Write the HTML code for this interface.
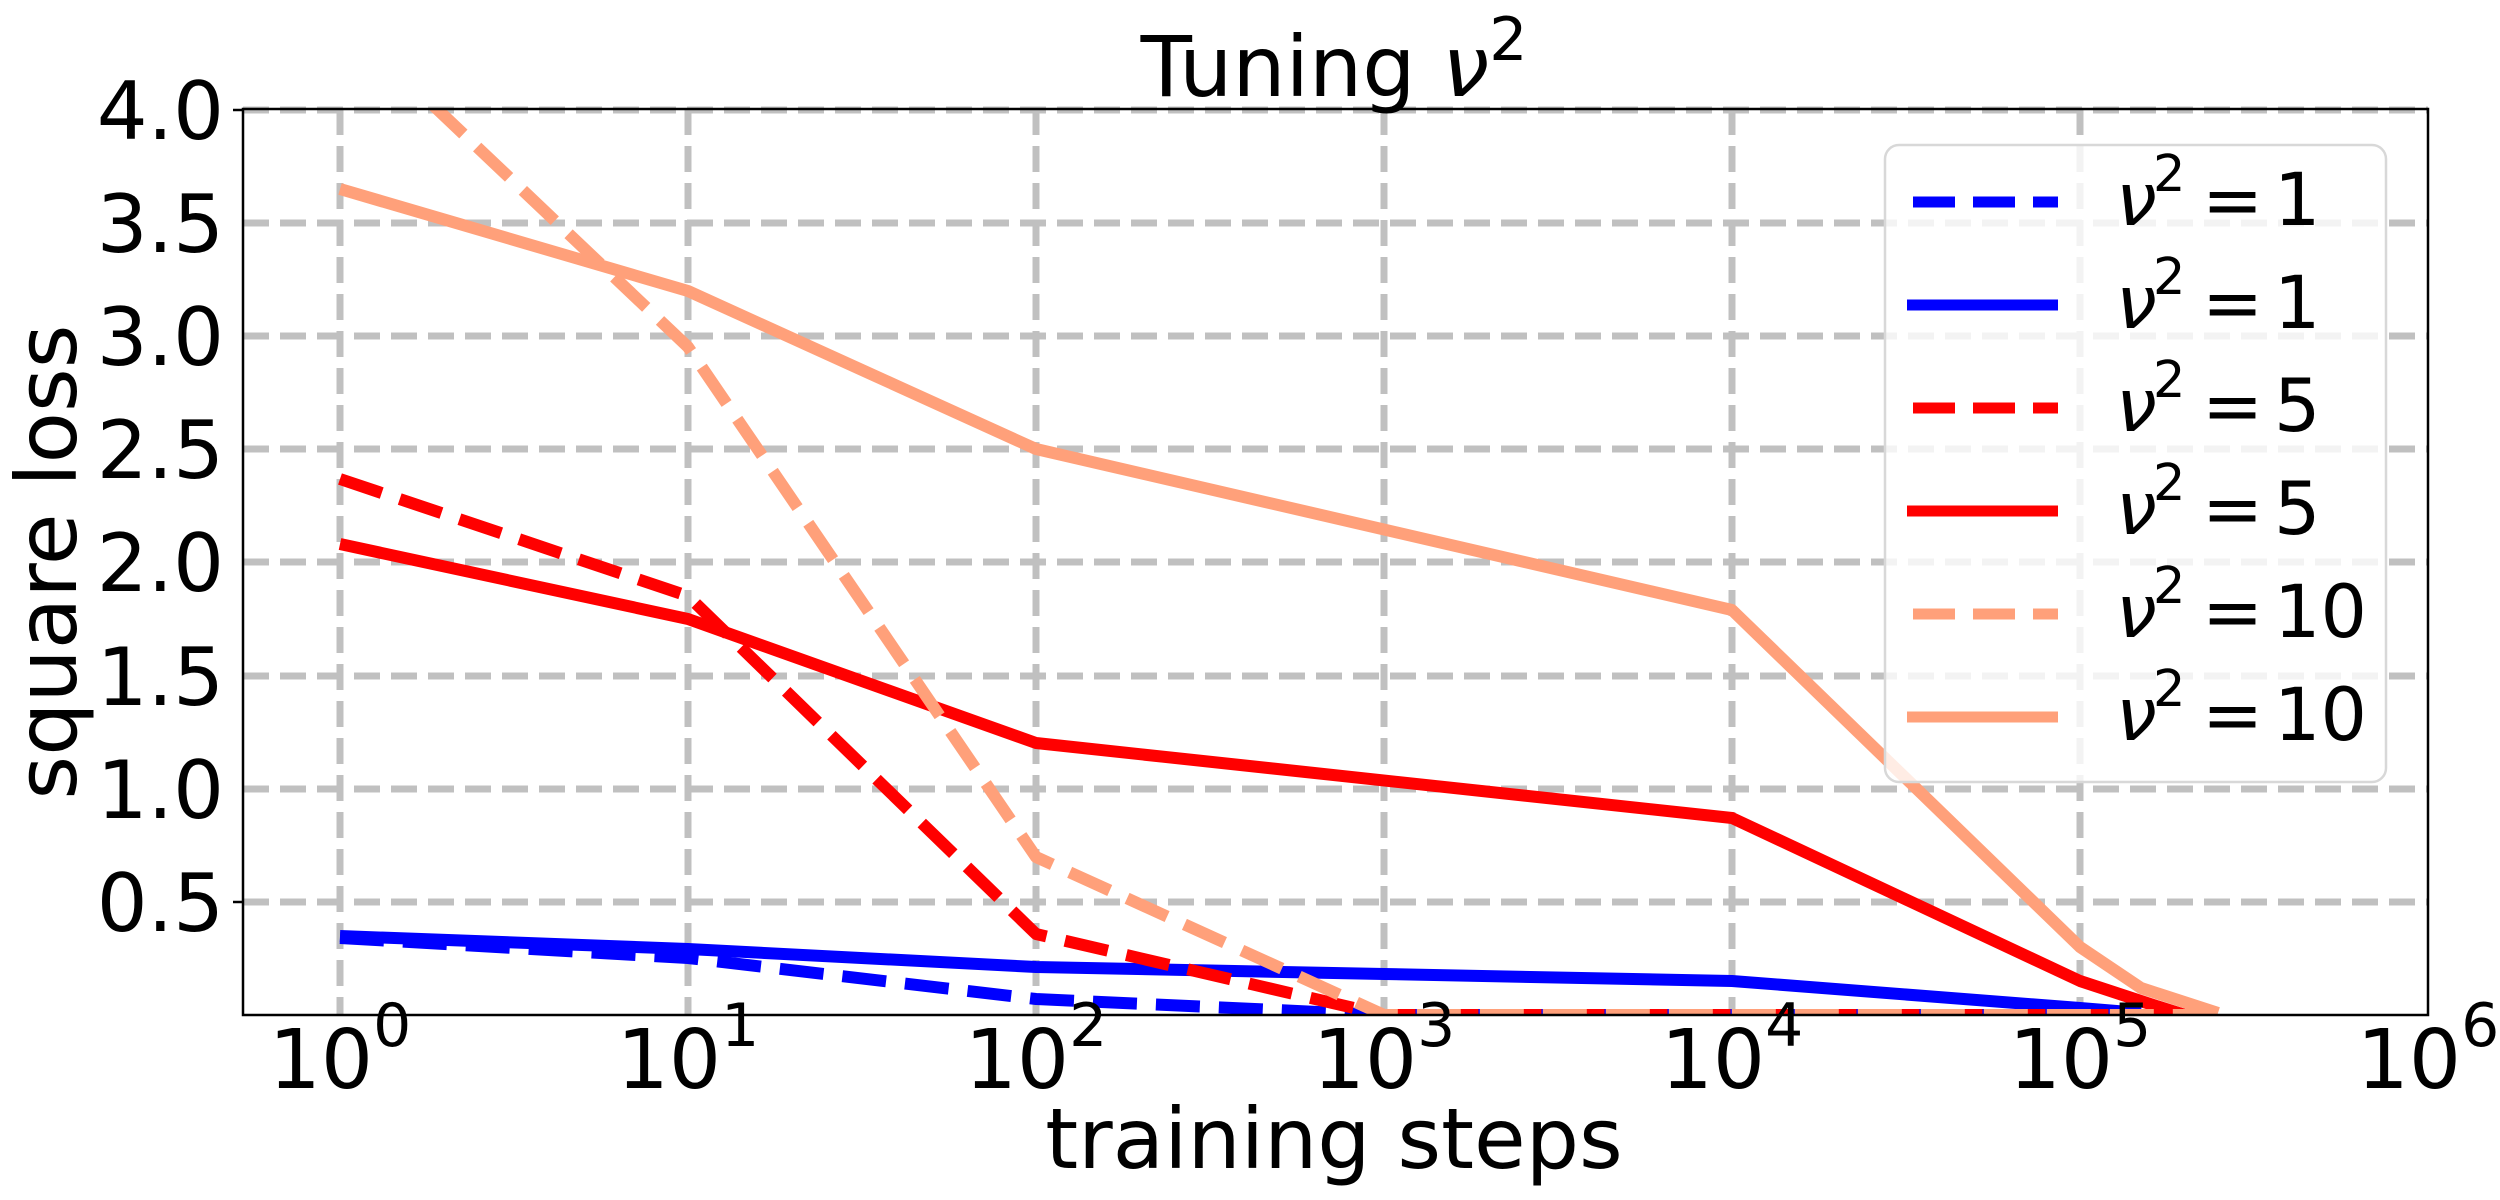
<!DOCTYPE html>
<html><head><meta charset="utf-8"><style>
html,body{margin:0;padding:0;background:#fff;}
svg{display:block;font-family:"DejaVu Sans","Liberation Sans",sans-serif;}
</style></head><body>
<svg width="2500" height="1200" viewBox="0 0 2500 1200" xmlns="http://www.w3.org/2000/svg">
<defs><clipPath id="c"><rect x="243" y="109" width="2185" height="906"/></clipPath></defs>
<rect width="2500" height="1200" fill="#fff"/>
<!-- grid -->
<g stroke="#c0c0c0" stroke-width="7" stroke-dasharray="26 11" fill="none">
<line x1="340" y1="109" x2="340" y2="1015"/>
<line x1="688" y1="109" x2="688" y2="1015"/>
<line x1="1036" y1="109" x2="1036" y2="1015"/>
<line x1="1384" y1="109" x2="1384" y2="1015"/>
<line x1="1732" y1="109" x2="1732" y2="1015"/>
<line x1="2080" y1="109" x2="2080" y2="1015"/>
<line x1="243" y1="110" x2="2428" y2="110"/>
<line x1="243" y1="223" x2="2428" y2="223"/>
<line x1="243" y1="336" x2="2428" y2="336"/>
<line x1="243" y1="449" x2="2428" y2="449"/>
<line x1="243" y1="562" x2="2428" y2="562"/>
<line x1="243" y1="676" x2="2428" y2="676"/>
<line x1="243" y1="789" x2="2428" y2="789"/>
<line x1="243" y1="902" x2="2428" y2="902"/>
</g>
<!-- series -->
<g clip-path="url(#c)" fill="none" stroke-width="12" stroke-linejoin="round">
<polyline stroke="#0000ff" stroke-dasharray="44 19" points="340,938 688,958 1036,999 1384,1015 1732,1015 2080,1015 2140,1015"/>
<polyline stroke="#0000ff" points="340,936 688,949 1036,967 1384,974 1732,981 2080,1008 2141,1013"/>
<polyline stroke="#ff0000" stroke-dasharray="44 19" points="340,479 688,596 1036,934 1384,1015 1732,1015 2185,1015"/>
<polyline stroke="#ff0000" points="340,544 688,619 1036,743 1732,818 2080,981 2150,1004 2185,1015"/>
<polyline stroke="#ffa07a" stroke-dasharray="44 19" points="340,17 688,347 1036,857 1384,1015 1732,1015 2220,1015"/>
<polyline stroke="#ffa07a" points="340,189 688,291 1036,449 1732,610 2080,947 2141,988 2218,1013"/>
</g>
<!-- axes -->
<rect x="243" y="109" width="2185" height="906" fill="none" stroke="#000" stroke-width="2.5"/>
<!-- y ticks -->
<g font-size="80" text-anchor="end" fill="#000">
<text x="224" y="139">4.0</text>
<text x="224" y="252">3.5</text>
<text x="224" y="365">3.0</text>
<text x="224" y="478">2.5</text>
<text x="224" y="591">2.0</text>
<text x="224" y="705">1.5</text>
<text x="224" y="818">1.0</text>
<text x="224" y="931">0.5</text>
</g>
<g stroke="#000" stroke-width="2.5">
<line x1="233" y1="110" x2="243" y2="110"/><line x1="233" y1="902" x2="243" y2="902"/>
</g>
<!-- x ticks -->
<g font-size="82" fill="#000" text-anchor="middle">
<text x="340" y="1088">10<tspan font-size="60" dy="-42">0</tspan></text>
<text x="688" y="1088">10<tspan font-size="60" dy="-42">1</tspan></text>
<text x="1036" y="1088">10<tspan font-size="60" dy="-42">2</tspan></text>
<text x="1384" y="1088">10<tspan font-size="60" dy="-42">3</tspan></text>
<text x="1732" y="1088">10<tspan font-size="60" dy="-42">4</tspan></text>
<text x="2080" y="1088">10<tspan font-size="60" dy="-42">5</tspan></text>
<text x="2428" y="1088">10<tspan font-size="60" dy="-42">6</tspan></text>
</g>
<text x="1334" y="1168" font-size="84" text-anchor="middle">training steps</text>
<text transform="translate(76,562) rotate(-90)" font-size="84" text-anchor="middle">square loss</text>
<text x="1334" y="96" font-size="84" text-anchor="middle">Tuning <tspan font-style="italic">ν</tspan><tspan font-size="60" dy="-36">2</tspan></text>
<!-- legend -->
<rect x="1885" y="145" width="501" height="637" rx="14" fill="#fff" fill-opacity="0.8" stroke="#d8d8d8" stroke-width="2.5"/>
<g stroke-width="11" fill="none">
<line x1="1913" y1="202" x2="2058" y2="202" stroke="#0000ff" stroke-dasharray="42 18"/>
<line x1="1907" y1="305" x2="2058" y2="305" stroke="#0000ff"/>
<line x1="1913" y1="408" x2="2058" y2="408" stroke="#ff0000" stroke-dasharray="42 18"/>
<line x1="1907" y1="511" x2="2058" y2="511" stroke="#ff0000"/>
<line x1="1913" y1="614" x2="2058" y2="614" stroke="#ffa07a" stroke-dasharray="42 18"/>
<line x1="1907" y1="717" x2="2058" y2="717" stroke="#ffa07a"/>
</g>
<g font-size="73" fill="#000">
<g transform="translate(0,225)"><text x="2116" y="0" font-style="italic">ν</text><text x="2153" y="-34" font-size="51">2</text><text x="2202" y="0">=</text><text x="2274" y="0">1</text></g>
<g transform="translate(0,328)"><text x="2116" y="0" font-style="italic">ν</text><text x="2153" y="-34" font-size="51">2</text><text x="2202" y="0">=</text><text x="2274" y="0">1</text></g>
<g transform="translate(0,431)"><text x="2116" y="0" font-style="italic">ν</text><text x="2153" y="-34" font-size="51">2</text><text x="2202" y="0">=</text><text x="2274" y="0">5</text></g>
<g transform="translate(0,534)"><text x="2116" y="0" font-style="italic">ν</text><text x="2153" y="-34" font-size="51">2</text><text x="2202" y="0">=</text><text x="2274" y="0">5</text></g>
<g transform="translate(0,637)"><text x="2116" y="0" font-style="italic">ν</text><text x="2153" y="-34" font-size="51">2</text><text x="2202" y="0">=</text><text x="2274" y="0">10</text></g>
<g transform="translate(0,740)"><text x="2116" y="0" font-style="italic">ν</text><text x="2153" y="-34" font-size="51">2</text><text x="2202" y="0">=</text><text x="2274" y="0">10</text></g>
</g>
</svg>
</body></html>
